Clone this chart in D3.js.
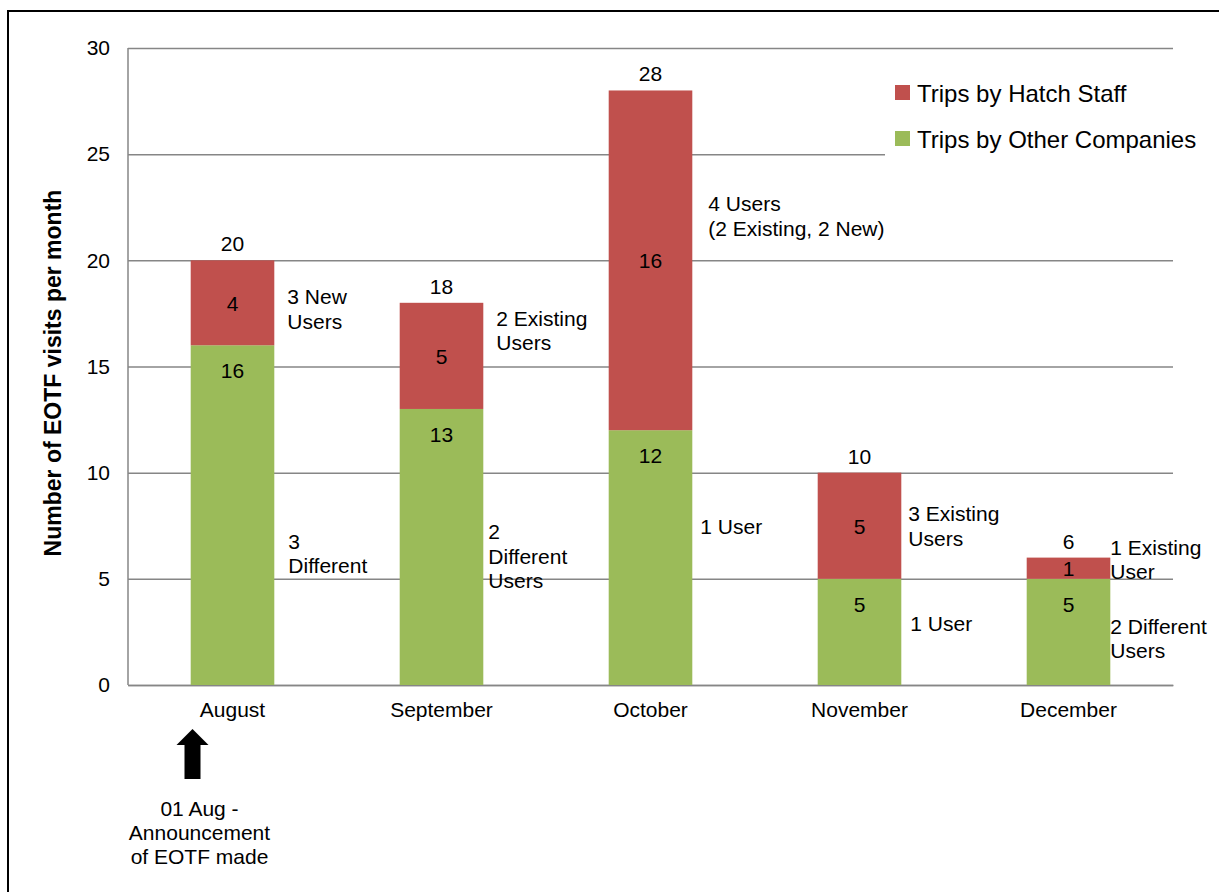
<!DOCTYPE html>
<html>
<head>
<meta charset="utf-8">
<script src="https://cdn.jsdelivr.net/npm/d3@7"></script>
<style>
  body { margin: 0; background: #fff; }
  svg text { font-family: "Liberation Sans", Arial, sans-serif; }
</style>
</head>
<body>
<div id="chart"></div>
<script>
// data
var months = ['August', 'September', 'October', 'November', 'December'];
var hatchTrips = [4, 5, 16, 5, 1];
var otherTrips = [16, 13, 12, 5, 5];
var yTicks = [0, 5, 10, 15, 20, 25, 30];
var hatchNotes = [['3 New', 'Users'], ['2 Existing', 'Users'], ['4 Users', '(2 Existing, 2 New)'], ['3 Existing', 'Users'], ['1 Existing', 'User']];
var otherNotes = [['3', 'Different'], ['2', 'Different', 'Users'], ['1 User'], ['1 User'], ['2 Different', 'Users']];
var seriesNames = ['Trips by Hatch Staff', 'Trips by Other Companies'];

var fullWidth = 1219, fullHeight = 892;
var margin = {top: 48, right: 46, bottom: 207, left: 128};
var width = fullWidth - margin.left - margin.right;
var height = fullHeight - margin.top - margin.bottom;
var red = '#C0504D', green = '#9BBB59', grid = '#868686';
var fs = 21;

var svg = d3.select('#chart').append('svg')
  .attr('width', fullWidth)
  .attr('height', fullHeight);

// outer frame (right and bottom edges fall outside the picture)
svg.append('rect')
  .attr('x', 8).attr('y', 11)
  .attr('width', fullWidth + 20).attr('height', fullHeight + 20)
  .attr('fill', 'none').attr('stroke', '#000').attr('stroke-width', 2);

var g = svg.append('g')
  .attr('transform', 'translate(' + margin.left + ',' + margin.top + ')');

var x = d3.scaleBand().domain(months).range([0, width]).paddingInner(0.6).paddingOuter(0.3);
var y = d3.scaleLinear().domain([0, 30]).range([height, 0]);

// gridlines + y labels
var yAxis = d3.axisLeft(y).tickValues(yTicks).tickSize(-width).tickPadding(18);
var yg = g.append('g').call(yAxis);
yg.select('.domain').remove();
yg.selectAll('line').attr('stroke', grid).attr('stroke-width', 1.5);
yg.selectAll('text').attr('font-size', fs).attr('fill', '#000')
  .attr('font-family', '"Liberation Sans", Arial, sans-serif');

// left axis line
g.append('line').attr('x1', 0).attr('x2', 0).attr('y1', 0).attr('y2', height)
  .attr('stroke', grid).attr('stroke-width', 1.5);

// y title
svg.append('text')
  .attr('transform', 'translate(61,' + 373 + ') rotate(-90)')
  .attr('text-anchor', 'middle')
  .attr('font-size', 23).attr('font-weight', 'bold')
  .text('Number of EOTF visits per month');

// x axis labels
var xAxis = d3.axisBottom(x).tickSize(0).tickPadding(17);
var xg = g.append('g').attr('transform', 'translate(0,' + height + ')').call(xAxis);
xg.select('.domain').attr('stroke', grid).attr('stroke-width', 1.5);
xg.selectAll('text').attr('font-size', fs).attr('fill', '#000')
  .attr('font-family', '"Liberation Sans", Arial, sans-serif');

var rows = months.map(function(m, i) {
  return {month: m, other: otherTrips[i], hatch: hatchTrips[i], total: otherTrips[i] + hatchTrips[i], i: i};
});

// bars
g.selectAll('rect.other').data(rows).enter().append('rect')
  .attr('class', 'other')
  .attr('x', function(d) { return x(d.month); })
  .attr('width', x.bandwidth())
  .attr('y', function(d) { return y(d.other); })
  .attr('height', function(d) { return height - y(d.other); })
  .attr('fill', green);

g.selectAll('rect.hatch').data(rows).enter().append('rect')
  .attr('class', 'hatch')
  .attr('x', function(d) { return x(d.month); })
  .attr('width', x.bandwidth())
  .attr('y', function(d) { return y(d.total); })
  .attr('height', function(d) { return y(d.other) - y(d.total); })
  .attr('fill', red);

var cx = function(d) { return x(d.month) + x.bandwidth() / 2; };

// value labels
g.selectAll('text.otherVal').data(rows).enter().append('text')
  .attr('x', cx).attr('y', function(d) { return y(d.other) + 33; })
  .attr('text-anchor', 'middle').attr('font-size', fs).text(function(d) { return d.other; });

g.selectAll('text.hatchVal').data(rows).enter().append('text')
  .attr('x', cx).attr('y', function(d) { return (y(d.other) + y(d.total)) / 2 + 8; })
  .attr('text-anchor', 'middle').attr('font-size', fs).text(function(d) { return d.hatch; });

g.selectAll('text.totalVal').data(rows).enter().append('text')
  .attr('x', cx).attr('y', function(d) { return y(d.total) - 9; })
  .attr('text-anchor', 'middle').attr('font-size', fs).text(function(d) { return d.total; });

// notes beside bars (first line level given in axis units)
var noteHatchY = [18.3, 17.3, 22.7, 8.1, 6.5];
var noteHatchDx = [13, 13, 16, 7, 0];
var noteOtherY = [6.8, 7.25, 7.5, 2.9, 2.8];
var noteOtherDx = [14, 5, 8, 9, 0];

function notes(lines, vals, dxs) {
  rows.forEach(function(d, i) {
    var t = g.append('text')
      .attr('x', x(d.month) + x.bandwidth() + dxs[i])
      .attr('y', y(vals[i]) + 8)
      .attr('font-size', fs);
    lines[i].forEach(function(s, k) {
      t.append('tspan').attr('x', x(d.month) + x.bandwidth() + dxs[i])
        .attr('dy', k === 0 ? 0 : 24.5).text(s);
    });
  });
}
notes(hatchNotes, noteHatchY, noteHatchDx);
notes(otherNotes, noteOtherY, noteOtherDx);

// legend
var lg = svg.append('g').attr('transform', 'translate(885,66)');
lg.append('rect').attr('width', 334).attr('height', 100).attr('fill', '#fff');
seriesNames.forEach(function(name, i) {
  lg.append('rect').attr('x', 10).attr('y', 19 + i * 46).attr('width', 15).attr('height', 15)
    .attr('fill', i === 0 ? red : green);
  lg.append('text').attr('x', 32).attr('y', 36 + i * 46)
    .attr('font-size', 24).attr('font-family', 'Lato, "Open Sans", sans-serif')
    .text(name);
});

// announcement arrow under August
var ax = cx(rows[0]) - 40 + margin.left;
svg.append('path')
  .attr('d', d3.line()([[ax - 8, 779], [ax - 8, 745], [ax - 16, 745], [ax, 729], [ax + 16, 745], [ax + 8, 745], [ax + 8, 779]]) + 'Z')
  .attr('fill', '#000');
var at = svg.append('text').attr('text-anchor', 'middle').attr('font-size', fs).attr('y', 816);
['01 Aug -', 'Announcement', 'of EOTF made'].forEach(function(s, k) {
  at.append('tspan').attr('x', cx(rows[0]) + margin.left - 33).attr('dy', k === 0 ? 0 : 24).text(s);
});
</script>
</body>
</html>
